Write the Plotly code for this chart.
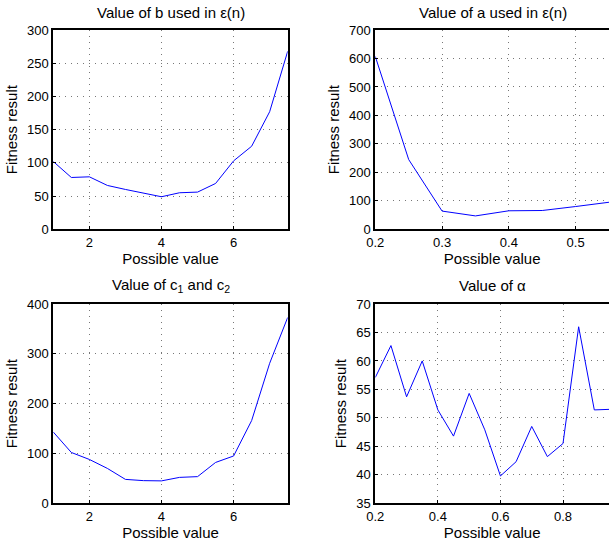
import plotly.graph_objects as go

# === Data ===
b_vals = [1, 1.5, 2, 2.5, 3, 3.5, 4, 4.5, 5, 5.5, 6, 6.5, 7, 7.5]
b_fit = [102, 78, 79, 66, 60, 55, 49, 55, 56, 69, 103, 125, 177, 268]

a_vals = [0.2, 0.25, 0.3, 0.35, 0.4, 0.45, 0.5, 0.55]
a_fit = [607, 245, 64, 47, 65, 66, 80, 95]

c_vals = [1, 1.5, 2, 2.5, 3, 3.5, 4, 4.5, 5, 5.5, 6, 6.5, 7, 7.5]
c_fit = [143, 102, 88, 70, 48, 45.5, 45, 52, 53.5, 82, 95, 166, 281, 373]

alpha_vals = [0.2, 0.25, 0.3, 0.35, 0.4, 0.45, 0.5, 0.55, 0.6, 0.65,
              0.7, 0.75, 0.8, 0.85, 0.9, 0.95]
alpha_fit = [57.1, 62.7, 53.7, 60.0, 51.4, 46.8, 54.3, 47.9, 39.8, 42.3,
             48.5, 43.2, 45.5, 66.0, 51.4, 51.5]

titles = ["Value of b used in \u03b5(n)", "Value of a used in \u03b5(n)",
          "Value of c<sub>1</sub> and c<sub>2</sub>", "Value of \u03b1"]

W, H = 609, 545
FONT = "Liberation Sans, Arial, sans-serif"

# plot-area boxes in pixels (left, right, top, bottom); right panels run off the page
boxes = [(53.3, 287.7, 30, 229.3), (375.3, 609, 30, 229.3),
         (53.3, 287.7, 304, 503.3), (375.3, 609, 304, 503.3)]
title_y = [12, 12, 285, 285]

fig = go.Figure()
series = [(b_vals, b_fit), (a_vals, a_fit), (c_vals, c_fit), (alpha_vals, alpha_fit)]
for i, (xs, ys) in enumerate(series):
    n = "" if i == 0 else str(i + 1)
    fig.add_trace(go.Scatter(x=xs, y=ys, mode="lines", xaxis="x" + n, yaxis="y" + n,
                             line=dict(color="#0000ff", width=1), showlegend=False,
                             cliponaxis=True))

xr = [[1, 7.5], [0.2, 0.55], [1, 7.5], [0.2, 0.947]]
xd = [dict(tick0=0, dtick=2), dict(tick0=0.2, dtick=0.1, tickformat=".1f"),
      dict(tick0=0, dtick=2), dict(tick0=0.2, dtick=0.2, tickformat=".1f")]
yr = [[0, 300], [0, 700], [0, 400], [35, 70]]
yd = [50, 100, 100, 5]

layout = dict(width=W, height=H, margin=dict(l=0, r=0, t=0, b=0),
              paper_bgcolor="white", plot_bgcolor="white",
              font=dict(family=FONT, size=13, color="black"), annotations=[])

for i, (l, r, t, b) in enumerate(boxes):
    n = "" if i == 0 else str(i + 1)
    common = dict(showline=True, linecolor="black", linewidth=2,
                  showgrid=True, gridcolor="#777777", griddash="1px,5px", gridwidth=1,
                  zeroline=False, ticks="inside", ticklen=3, tickcolor="black",
                  tickfont=dict(size=13), automargin=False)
    layout["xaxis" + n] = dict(common, domain=[l / W, r / W], range=xr[i],
                               anchor="y" + n, mirror=True,
                               title=dict(text="Possible value", font=dict(size=15), standoff=3),
                               **xd[i])
    layout["yaxis" + n] = dict(common, domain=[1 - b / H, 1 - t / H], range=yr[i],
                               anchor="x" + n, mirror=(i % 2 == 0), dtick=yd[i],
                               title=dict(text="Fitness result", font=dict(size=15), standoff=6))
    cx = (l + l + 234.4) / 2
    layout["annotations"].append(dict(text=titles[i], xref="paper", yref="paper",
                                      x=cx / W, y=1 - title_y[i] / H,
                                      xanchor="center", yanchor="middle",
                                      showarrow=False, font=dict(size=15)))

fig.update_layout(**layout)
# drop the browser's default body margin so the figure sits at the page corner
fig.write_html("out.html", config={"displayModeBar": False},
               post_script="document.body.style.margin='0';")
